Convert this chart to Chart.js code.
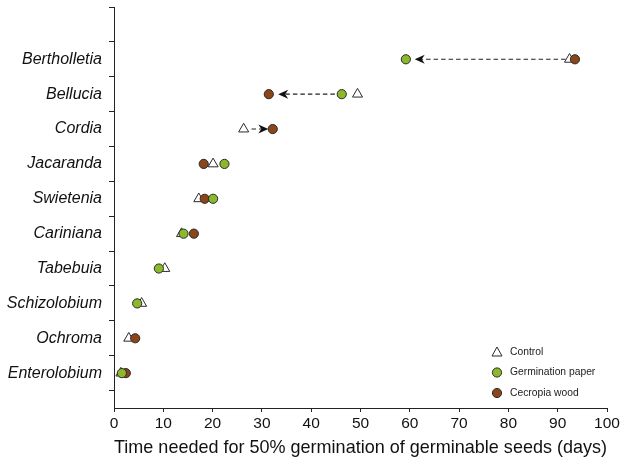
<!DOCTYPE html>
<html>
<head>
<meta charset="utf-8">
<script src="https://cdn.jsdelivr.net/npm/chart.js@4.4.1/dist/chart.umd.min.js"></script>
<style>
  body { margin: 0; background: #fff; }
  #wrap { width: 623px; height: 462px; }
</style>
</head>
<body>
<div id="wrap"><canvas id="germChart"></canvas></div>
<script>
// species, top to bottom
const species = ["Bertholletia", "Bellucia", "Cordia", "Jacaranda", "Swietenia",
                 "Cariniana", "Tabebuia", "Schizolobium", "Ochroma", "Enterolobium"];

// days to 50% germination (null = not shown)
const controlDays = [92.4, 49.4, 26.3, 20.1, 17.2, 13.7, 10.3, 5.6, 3.0, 1.4];
const paperDays   = [59.2, 46.2, null, 22.4, 20.1, 14.1, 9.1, 4.7, null, 1.6];
const woodDays    = [93.5, 31.4, 32.2, 18.2, 18.4, 16.2, null, null, 4.3, 2.4];

// dashed arrows: start -> tip (days)
const arrowFrom = [91.6, 44.8, 27.9, null, null, null, null, null, null, null];
const arrowTo   = [61.0, 33.3, 31.3, null, null, null, null, null, null, null];

const xTicks = [0, 10, 20, 30, 40, 50, 60, 70, 80, 90, 100];

const GREEN = "#8cb82c";
const BROWN = "#8a4518";
const EDGE = "#2b2b2b";
const FONT = "'Liberation Sans', Arial, Helvetica, sans-serif";

function toPoints(vals) {
    const pts = [];
    vals.forEach((v, i) => {
        if (v !== null) pts.push({ x: v, y: species.length - i });
    });
    return pts;
}

// dashed arrows drawn under the markers
const arrowPlugin = {
    id: "arrows",
    beforeDatasetsDraw(chart) {
        const ctx = chart.ctx;
        const xs = chart.scales.x, ys = chart.scales.y;
        ctx.save();
        arrowFrom.forEach((from, i) => {
            if (from === null) return;
            const y = ys.getPixelForValue(species.length - i);
            const x0 = xs.getPixelForValue(from);
            const x1 = xs.getPixelForValue(arrowTo[i]);
            const dir = x1 > x0 ? 1 : -1;
            const headLen = 10, headW = 4.5;
            ctx.strokeStyle = "#222";
            ctx.lineWidth = 1.1;
            ctx.setLineDash([4.5, 3]);
            ctx.beginPath();
            ctx.moveTo(x0, y);
            ctx.lineTo(x1 - dir * headLen * 0.7, y);
            ctx.stroke();
            ctx.setLineDash([]);
            ctx.fillStyle = "#111";
            ctx.beginPath();
            ctx.moveTo(x1, y);
            ctx.lineTo(x1 - dir * headLen, y - headW);
            ctx.lineTo(x1 - dir * headLen * 0.7, y);
            ctx.lineTo(x1 - dir * headLen, y + headW);
            ctx.closePath();
            ctx.fill();
        });
        ctx.restore();
    }
};

// legend in the lower right corner of the plot
const legendPlugin = {
    id: "cornerLegend",
    afterDatasetsDraw(chart) {
        const ctx = chart.ctx;
        const area = chart.chartArea;
        const items = [
            { label: "Control", shape: "triangle", fill: "#fff" },
            { label: "Germination paper", shape: "circle", fill: GREEN },
            { label: "Cecropia wood", shape: "circle", fill: BROWN }
        ];
        const mx = area.right - 110, y0 = area.bottom - 56;
        ctx.save();
        ctx.font = "10.3px " + FONT;
        ctx.textBaseline = "middle";
        items.forEach((it, k) => {
            const y = y0 + k * 20.5;
            ctx.lineWidth = 1;
            ctx.strokeStyle = EDGE;
            ctx.fillStyle = it.fill;
            ctx.beginPath();
            if (it.shape === "circle") {
                ctx.arc(mx, y, 4.6, 0, Math.PI * 2);
            } else {
                ctx.moveTo(mx, y - 5);
                ctx.lineTo(mx + 5, y + 4);
                ctx.lineTo(mx - 5, y + 4);
                ctx.closePath();
            }
            ctx.fill();
            ctx.stroke();
            ctx.fillStyle = "#222";
            ctx.fillText(it.label, mx + 13, y);
        });
        ctx.restore();
    }
};

new Chart(document.getElementById("germChart"), {
    type: "scatter",
    data: {
        datasets: [
            {
                label: "Control",
                data: toPoints(controlDays),
                pointStyle: "triangle",
                pointRadius: 5.8,
                backgroundColor: "#fff",
                borderColor: EDGE,
                borderWidth: 1,
                order: 3
            },
            {
                label: "Cecropia wood",
                data: toPoints(woodDays),
                pointStyle: "circle",
                pointRadius: 4.6,
                backgroundColor: BROWN,
                borderColor: EDGE,
                borderWidth: 1,
                order: 2
            },
            {
                label: "Germination paper",
                data: toPoints(paperDays),
                pointStyle: "circle",
                pointRadius: 4.6,
                backgroundColor: GREEN,
                borderColor: EDGE,
                borderWidth: 1,
                order: 1
            }
        ]
    },
    options: {
        responsive: true,
        maintainAspectRatio: false,
        animation: false,
        layout: { padding: { top: 7, right: 16, left: 0, bottom: 0 } },
        plugins: {
            legend: { display: false },
            tooltip: { enabled: false }
        },
        scales: {
            x: {
                type: "linear",
                min: 0,
                max: 100,
                afterBuildTicks: scale => { scale.ticks = xTicks.map(v => ({ value: v })); },
                afterFit: scale => {
                    scale.height = 54;
                    scale.paddingLeft = 0;
                    scale.paddingRight = 0;
                },
                grid: { drawOnChartArea: false, drawTicks: true, tickLength: 4, color: "#222" },
                border: { color: "#222", width: 1 },
                ticks: { color: "#111", padding: 2, font: { family: FONT, size: 15.5 } },
                title: {
                    display: true,
                    text: "Time needed for 50% germination of germinable seeds (days)",
                    color: "#111",
                    font: { family: FONT, size: 19 },
                    padding: { top: 2, bottom: 3 }
                }
            },
            y: {
                type: "linear",
                min: 0,
                max: species.length + 1.5,
                afterBuildTicks: scale => {
                    const t = [];
                    for (let v = 0.5; v <= species.length + 1.5; v += 0.5) t.push({ value: v });
                    scale.ticks = t;
                },
                afterFit: scale => {
                    scale.width = 114;
                    scale.paddingTop = 0;
                    scale.paddingBottom = 0;
                },
                grid: {
                    drawOnChartArea: false,
                    drawTicks: true,
                    tickLength: 5,
                    tickColor: ctx => (ctx.tick && Number.isInteger(ctx.tick.value)) ? "rgba(0,0,0,0)" : "#222"
                },
                border: { color: "#222", width: 1 },
                ticks: {
                    autoSkip: false,
                    padding: 7,
                    color: "#111",
                    font: { family: FONT, size: 16, style: "italic" },
                    callback: v => {
                        if (!Number.isInteger(v) || v < 1 || v > species.length) return "";
                        return species[species.length - v];
                    }
                }
            }
        }
    },
    plugins: [arrowPlugin, legendPlugin]
});
</script>
</body>
</html>
